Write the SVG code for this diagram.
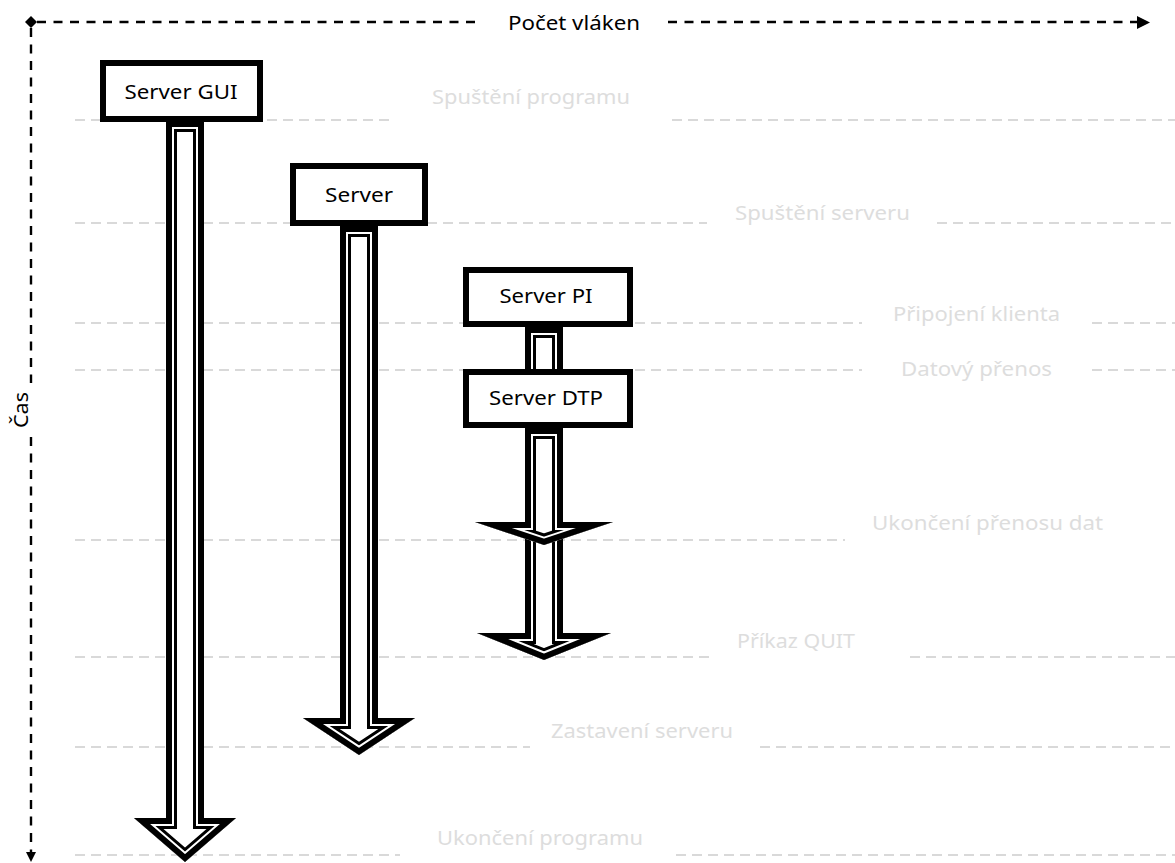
<svg xmlns="http://www.w3.org/2000/svg" xmlns:xlink="http://www.w3.org/1999/xlink" width="1175" height="863" viewBox="0 0 1175 863">
  <style>
    .axis { fill: none; stroke: #000; stroke-width: 2.4; stroke-dasharray: 9 7.5; }
    .axis-head { fill: #000; }
    .axis-label { font-family: "Noto Sans", "Open Sans", sans-serif; font-size: 19px; fill: #000; }
    .guide { fill: none; stroke: #d9d9d9; stroke-width: 2; stroke-dasharray: 10 6; }
    .guide-label { font-family: "Noto Sans", "Open Sans", sans-serif; font-size: 20px; fill: #dddddd; }
    .box rect { fill: #fff; stroke: #000; stroke-width: 6; }
    .box text { font-family: "Noto Sans", "Open Sans", sans-serif; font-size: 20px; fill: #000; text-anchor: middle; }
    .l0 { fill: #fff; stroke: none; }
    .l1 { fill: none; stroke: #000; stroke-width: 22; stroke-linejoin: miter; stroke-miterlimit: 10; }
    .l2 { fill: none; stroke: #fff; stroke-width: 16; stroke-linejoin: miter; stroke-miterlimit: 10; }
    .l3 { fill: none; stroke: #000; stroke-width: 12; stroke-linejoin: miter; stroke-miterlimit: 10; }
  </style>
  <defs>
    <!-- hollow block arrows: outline shapes, inner bands drawn by clipped strokes -->
    <path id="a-gui" d="M166,121 V818 H134 L185,862 L236,818 H204 V121 Z"/>
    <path id="a-srv" d="M340,226 V718 H303 L359,755 L415,718 H378 V226 Z"/>
    <path id="a-pi" d="M525,327 V633 H477 L544,660 L611,633 H563 V327 Z"/>
    <path id="a-dtp" d="M525,428 V522 H475 L544,545 L613,522 H563 V428 Z"/>
    <clipPath id="c-gui"><use href="#a-gui"/></clipPath>
    <clipPath id="c-srv"><use href="#a-srv"/></clipPath>
    <clipPath id="c-pi"><use href="#a-pi"/></clipPath>
    <clipPath id="c-dtp"><use href="#a-dtp"/></clipPath>
  </defs>

  <rect width="1175" height="863" fill="#fff"/>

  <!-- time markers -->
  <g id="guides">
    <path class="guide" d="M75,120 H390 M672,120 H1175"/>
    <path class="guide" d="M75,223 H707 M937,223 H1175"/>
    <path class="guide" d="M75,323 H862 M1092,323 H1175"/>
    <path class="guide" d="M75,370 H862 M1092,370 H1175"/>
    <path class="guide" d="M75,540 H845"/>
    <path class="guide" d="M75,657 H710 M910,657 H1175"/>
    <path class="guide" d="M75,747 H530 M760,747 H1175"/>
    <path class="guide" d="M75,855 H400 M676,855 H1175"/>
    <text class="guide-label" x="432" y="104" textLength="198" lengthAdjust="spacingAndGlyphs">Spuštění programu</text>
    <text class="guide-label" x="735" y="220" textLength="175" lengthAdjust="spacingAndGlyphs">Spuštění serveru</text>
    <text class="guide-label" x="893" y="321" textLength="167" lengthAdjust="spacingAndGlyphs">Připojení klienta</text>
    <text class="guide-label" x="901" y="376" textLength="151" lengthAdjust="spacingAndGlyphs">Datový přenos</text>
    <text class="guide-label" x="872" y="530" textLength="231" lengthAdjust="spacingAndGlyphs">Ukončení přenosu dat</text>
    <text class="guide-label" x="737" y="648" textLength="118" lengthAdjust="spacingAndGlyphs">Příkaz QUIT</text>
    <text class="guide-label" x="551" y="738" textLength="182" lengthAdjust="spacingAndGlyphs">Zastavení serveru</text>
    <text class="guide-label" x="437" y="845" textLength="206" lengthAdjust="spacingAndGlyphs">Ukončení programu</text>
  </g>

  <!-- axes -->
  <g id="axes">
    <path class="axis" d="M37,22 H480 M668,22 H1138"/>
    <path class="axis" d="M31,28 V383 M31,437 V852"/>
    <polygon class="axis-head" points="31,16 37,22 31,28 25,22"/>
    <polygon class="axis-head" points="1137,16 1150,22.5 1137,29"/>
    <polygon class="axis-head" points="26,852 36,852 31,862"/>
    <text class="axis-label" x="574" y="30" text-anchor="middle" textLength="132" lengthAdjust="spacingAndGlyphs">Počet vláken</text>
    <text class="axis-label" transform="translate(28,410) rotate(-90)" text-anchor="middle" textLength="36" lengthAdjust="spacingAndGlyphs">Čas</text>
  </g>

  <!-- thread lifelines -->
  <g id="connectors">
    <g id="life-gui" clip-path="url(#c-gui)">
      <use href="#a-gui" class="l0"/><use href="#a-gui" class="l1"/><use href="#a-gui" class="l2"/><use href="#a-gui" class="l3"/>
    </g>
    <g id="life-srv" clip-path="url(#c-srv)">
      <use href="#a-srv" class="l0"/><use href="#a-srv" class="l1"/><use href="#a-srv" class="l2"/><use href="#a-srv" class="l3"/>
    </g>
    <g id="life-pi" clip-path="url(#c-pi)">
      <use href="#a-pi" class="l0"/><use href="#a-pi" class="l1"/><use href="#a-pi" class="l2"/><use href="#a-pi" class="l3"/>
    </g>
    <g id="life-dtp" clip-path="url(#c-dtp)">
      <use href="#a-dtp" class="l0"/><use href="#a-dtp" class="l1"/><use href="#a-dtp" class="l2"/><use href="#a-dtp" class="l3"/>
    </g>
  </g>

  <!-- threads -->
  <g id="server-gui" class="box">
    <rect x="103" y="63" width="157" height="56"/>
    <text x="181" y="99" textLength="113" lengthAdjust="spacingAndGlyphs">Server GUI</text>
  </g>
  <g id="server" class="box">
    <rect x="293" y="166" width="132" height="57"/>
    <text x="359" y="202" textLength="68" lengthAdjust="spacingAndGlyphs">Server</text>
  </g>
  <g id="server-pi" class="box">
    <rect x="466" y="270" width="164" height="54"/>
    <text x="546" y="303" textLength="93" lengthAdjust="spacingAndGlyphs">Server PI</text>
  </g>
  <g id="server-dtp" class="box">
    <rect x="466" y="372" width="164" height="53"/>
    <text x="546" y="405" textLength="114" lengthAdjust="spacingAndGlyphs">Server DTP</text>
  </g>
</svg>
